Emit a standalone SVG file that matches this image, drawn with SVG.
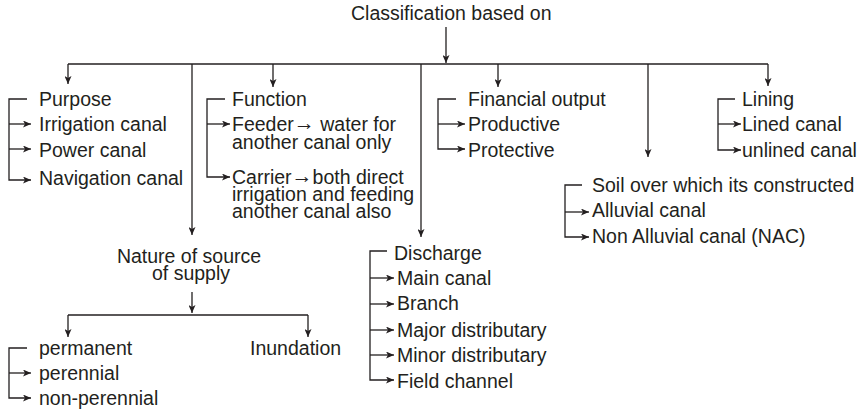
<svg xmlns="http://www.w3.org/2000/svg" width="861" height="411" viewBox="0 0 861 411">
<defs>
<marker id="ah" markerUnits="userSpaceOnUse" markerWidth="9" markerHeight="7" refX="8" refY="3.5" orient="auto">
<path d="M0,0 L8,3.5 L0,7 L2,3.5 Z" fill="#231f20"/>
</marker>
<style>
text{font-family:"Liberation Sans",Arial,sans-serif;font-size:19.5px;fill:#231f20}
.c line,.c path{stroke:#231f20;stroke-width:1.3;fill:none}
.a{marker-end:url(#ah)}
.ar{font-size:21px}
</style>
</defs>
<rect width="861" height="411" fill="#fff"/>
<g class="c" id="connectors">
<line class="a" x1="446" y1="27" x2="446" y2="63"/>
<line x1="68" y1="64" x2="768" y2="64"/>
<line class="a" x1="68" y1="64" x2="68" y2="84"/>
<line class="a" x1="273" y1="64" x2="273" y2="87"/>
<line class="a" x1="498" y1="64" x2="498" y2="87"/>
<line class="a" x1="768" y1="64" x2="768" y2="86"/>
<line class="a" x1="192" y1="64" x2="192" y2="235"/>
<line class="a" x1="421" y1="64" x2="421" y2="237"/>
<line class="a" x1="648" y1="64" x2="648" y2="157"/>
<path class="a" d="M27,99 H9 V180 H31"/>
<line class="a" x1="9" y1="124" x2="31" y2="124"/>
<line class="a" x1="9" y1="149" x2="31" y2="149"/>
<path class="a" d="M225,99 H207 V177 H230"/>
<line class="a" x1="207" y1="124" x2="230" y2="124"/>
<path class="a" d="M456,99 H438 V149 H465"/>
<line class="a" x1="438" y1="124" x2="465" y2="124"/>
<path class="a" d="M735,99 H718 V150 H741"/>
<line class="a" x1="718" y1="124" x2="741" y2="124"/>
<path class="a" d="M582,185 H565 V237 H589"/>
<line class="a" x1="565" y1="212" x2="589" y2="212"/>
<path class="a" d="M387,251 H370 V380 H394"/>
<line class="a" x1="370" y1="278" x2="394" y2="278"/>
<line class="a" x1="370" y1="304" x2="394" y2="304"/>
<line class="a" x1="370" y1="330" x2="394" y2="330"/>
<line class="a" x1="370" y1="355" x2="394" y2="355"/>
<line class="a" x1="192" y1="292" x2="192" y2="313"/>
<line x1="68" y1="315" x2="308" y2="315"/>
<line class="a" x1="68" y1="315" x2="68" y2="337"/>
<line class="a" x1="308" y1="315" x2="308" y2="337"/>
<path class="a" d="M27,348 H9 V398 H31"/>
<line class="a" x1="9" y1="373" x2="31" y2="373"/>
</g>
<g id="root"><text x="351" y="20">Classification based on</text></g>
<g id="purpose">
<text x="39" y="106">Purpose</text>
<text x="39" y="131">Irrigation canal</text>
<text x="39" y="157">Power canal</text>
<text x="39" y="185">Navigation canal</text>
</g>
<g id="function">
<text x="232" y="106">Function</text>
<text x="232" y="131">Feeder<tspan class="ar" dy="-1">→</tspan><tspan dy="1"> water for</tspan></text>
<text x="232" y="149">another canal only</text>
<text x="232" y="184">Carrier<tspan class="ar" dy="-1">→</tspan><tspan dy="1">both direct</tspan></text>
<text x="232" y="201">irrigation and feeding</text>
<text x="232" y="218">another canal also</text>
</g>
<g id="financial">
<text x="468" y="106">Financial output</text>
<text x="468" y="131">Productive</text>
<text x="468" y="157">Protective</text>
</g>
<g id="lining">
<text x="742" y="106">Lining</text>
<text x="742" y="131">Lined canal</text>
<text x="742" y="157">unlined canal</text>
</g>
<g id="soil">
<text x="592" y="192">Soil over which its constructed</text>
<text x="592" y="217">Alluvial canal</text>
<text x="592" y="243">Non Alluvial canal (NAC)</text>
</g>
<g id="discharge">
<text x="394" y="260">Discharge</text>
<text x="397" y="285">Main canal</text>
<text x="397" y="310">Branch</text>
<text x="397" y="337">Major distributary</text>
<text x="397" y="362">Minor distributary</text>
<text x="397" y="388">Field channel</text>
</g>
<g id="nature">
<text x="189" y="263" text-anchor="middle">Nature of source</text>
<text x="191" y="280" text-anchor="middle">of supply</text>
</g>
<g id="supply">
<text x="39" y="355">permanent</text>
<text x="39" y="380">perennial</text>
<text x="39" y="405">non-perennial</text>
<text x="250" y="355">Inundation</text>
</g>
</svg>
